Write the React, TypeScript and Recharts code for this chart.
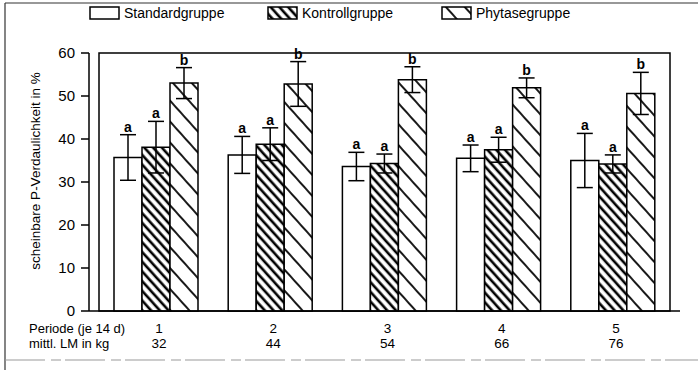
import React from "react";
import {
  BarChart,
  Bar,
  XAxis,
  YAxis,
  ErrorBar,
  LabelList,
  ReferenceArea,
} from "recharts";

const periods = ["1", "2", "3", "4", "5"];
const weights = ["32", "44", "54", "66", "76"];

const standard = [35.7, 36.3, 33.6, 35.5, 35.0];
const standardErr = [5.3, 4.3, 3.3, 3.1, 6.3];
const kontroll = [38.1, 38.8, 34.3, 37.5, 34.2];
const kontrollErr = [6.0, 3.8, 2.2, 2.9, 2.1];
const phytase = [53.0, 52.8, 53.8, 51.9, 50.6];
const phytaseErr = [3.6, 5.2, 3.0, 2.3, 4.9];

const sigStandard = ["a", "a", "a", "a", "a"];
const sigKontroll = ["a", "a", "a", "a", "a"];
const sigPhytase = ["b", "b", "b", "b", "b"];

const yTicks = [0, 10, 20, 30, 40, 50, 60];

const data = periods.map((p, i) => ({
  p,
  lm: weights[i],
  std: standard[i],
  stdErr: standardErr[i],
  ktr: kontroll[i],
  ktrErr: kontrollErr[i],
  phy: phytase[i],
  phyErr: phytaseErr[i],
}));

const FONT = "'Liberation Sans', Arial, sans-serif";

const Patterns = ({ suffix = "" }: { suffix?: string }) => (
  <defs>
    <pattern
      id={"ktr" + suffix}
      patternUnits="userSpaceOnUse"
      width={6.5}
      height={10}
      patternTransform="rotate(-42)"
    >
      <rect width={6.5} height={10} fill="#fff" />
      <line x1={2} y1={0} x2={2} y2={10} stroke="#000" strokeWidth={2.6} />
    </pattern>
    <pattern
      id={"phy" + suffix}
      patternUnits="userSpaceOnUse"
      width={14}
      height={10}
      patternTransform="rotate(-42)"
    >
      <rect width={14} height={10} fill="#fff" />
      <line x1={3} y1={0} x2={3} y2={10} stroke="#000" strokeWidth={1.8} />
    </pattern>
  </defs>
);

// letter above the error bar, pixel size per unit taken from the bar itself
const sigLabel = (vals: number[], errs: number[], sig: string[]) => (props: any) => {
  const { x, y, width, height, index } = props;
  const i = typeof index === "number" ? index : 0;
  const ppu = vals[i] ? height / vals[i] : 0;
  const top = y - errs[i] * ppu;
  return (
    <text
      x={x + width / 2}
      y={top - 3}
      textAnchor="middle"
      fontFamily={FONT}
      fontSize={14}
      fontWeight="bold"
      fill="#000"
    >
      {sig[i]}
    </text>
  );
};

const XTick = (props: any) => {
  const { x, y, payload, index } = props;
  return (
    <g fontFamily={FONT} fontSize={13.5} fill="#000">
      <text x={x + 3} y={y + 14} textAnchor="middle" fill="#000">
        {payload.value}
      </text>
      <text x={x + 3} y={y + 29} textAnchor="middle" fill="#000">
        {weights[index]}
      </text>
    </g>
  );
};

const Swatch = ({ kind }: { kind: "std" | "ktr" | "phy" }) => (
  <svg width={31} height={14} style={{ display: "block" }}>
    <Patterns suffix={"-lg-" + kind} />
    <rect
      x={1}
      y={1}
      width={29}
      height={12}
      fill={kind === "std" ? "#fff" : `url(#${kind}-lg-${kind})`}
      stroke="#000"
      strokeWidth={1.5}
    />
  </svg>
);

const legendItems: { kind: "std" | "ktr" | "phy"; label: string; left: number }[] = [
  { kind: "std", label: "Standardgruppe", left: 89 },
  { kind: "ktr", label: "Kontrollgruppe", left: 267 },
  { kind: "phy", label: "Phytasegruppe", left: 441 },
];

export default function App() {
  return (
    <div
      style={{
        position: "relative",
        width: 698,
        height: 370,
        background: "#fff",
        fontFamily: FONT,
      }}
    >
      <style>{"body{margin:0}"}</style>
      <BarChart
        width={698}
        height={370}
        data={data}
        margin={{ top: 53, right: 18, left: 0, bottom: 18 }}
        barCategoryGap={15}
        barGap={0}
      >
        <Patterns />
        <XAxis
          dataKey="p"
          height={41}
          tickLine={false}
          axisLine={{ stroke: "#000", strokeWidth: 1.5 }}
          tick={<XTick />}
          padding={{ left: 10, right: 10 }}
          interval={0}
        />
        <YAxis
          width={89}
          domain={[0, 60]}
          ticks={yTicks}
          interval={0}
          tickSize={8}
          tickMargin={6}
          tickLine={{ stroke: "#000", strokeWidth: 1.5 }}
          axisLine={{ stroke: "#000", strokeWidth: 1.5 }}
          tick={{ fill: "#000", fontSize: 15, fontFamily: FONT }}
        />
        <ReferenceArea
          y1={0}
          y2={60}
          fill="none"
          stroke="#000"
          strokeWidth={1.5}
          fillOpacity={0}
          ifOverflow="visible"
        />
        <Bar dataKey="std" fill="#fff" stroke="#000" strokeWidth={1.5} isAnimationActive={false}>
          <ErrorBar dataKey="stdErr" width={8} stroke="#000" strokeWidth={1.5} />
          <LabelList dataKey="std" content={sigLabel(standard, standardErr, sigStandard)} />
        </Bar>
        <Bar dataKey="ktr" fill="url(#ktr)" stroke="#000" strokeWidth={1.5} isAnimationActive={false}>
          <ErrorBar dataKey="ktrErr" width={8} stroke="#000" strokeWidth={1.5} />
          <LabelList dataKey="ktr" content={sigLabel(kontroll, kontrollErr, sigKontroll)} />
        </Bar>
        <Bar dataKey="phy" fill="url(#phy)" stroke="#000" strokeWidth={1.5} isAnimationActive={false}>
          <ErrorBar dataKey="phyErr" width={8} stroke="#000" strokeWidth={1.5} />
          <LabelList dataKey="phy" content={sigLabel(phytase, phytaseErr, sigPhytase)} />
        </Bar>
      </BarChart>

      <svg
        width={698}
        height={370}
        style={{ position: "absolute", left: 0, top: 0, pointerEvents: "none" }}
      >
        <line x1={5} y1={3} x2={698} y2={3} stroke="#333" strokeWidth={1.2} />
        <line x1={5} y1={3} x2={5} y2={370} stroke="#333" strokeWidth={1.2} />
        <line x1={5} y1={360} x2={698} y2={360} stroke="#999" strokeWidth={1} strokeDasharray="40 6 10 4" />
        <text
          transform="translate(40,171) rotate(-90)"
          textAnchor="middle"
          fontFamily={FONT}
          fontSize={13.5}
          fill="#000"
        >
          scheinbare P-Verdaulichkeit in %
        </text>
        <text x={29} y={333} fontFamily={FONT} fontSize={13} fill="#000">
          Periode (je 14 d)
        </text>
        <text x={29} y={348} fontFamily={FONT} fontSize={13} fill="#000">
          mittl. LM in kg
        </text>
      </svg>

      {legendItems.map((it) => (
        <div
          key={it.kind}
          style={{
            position: "absolute",
            left: it.left,
            top: 5,
            display: "flex",
            alignItems: "center",
            gap: 4,
            fontSize: 14,
            color: "#000",
            lineHeight: "16px",
          }}
        >
          <Swatch kind={it.kind} />
          <span>{it.label}</span>
        </div>
      ))}
    </div>
  );
}
